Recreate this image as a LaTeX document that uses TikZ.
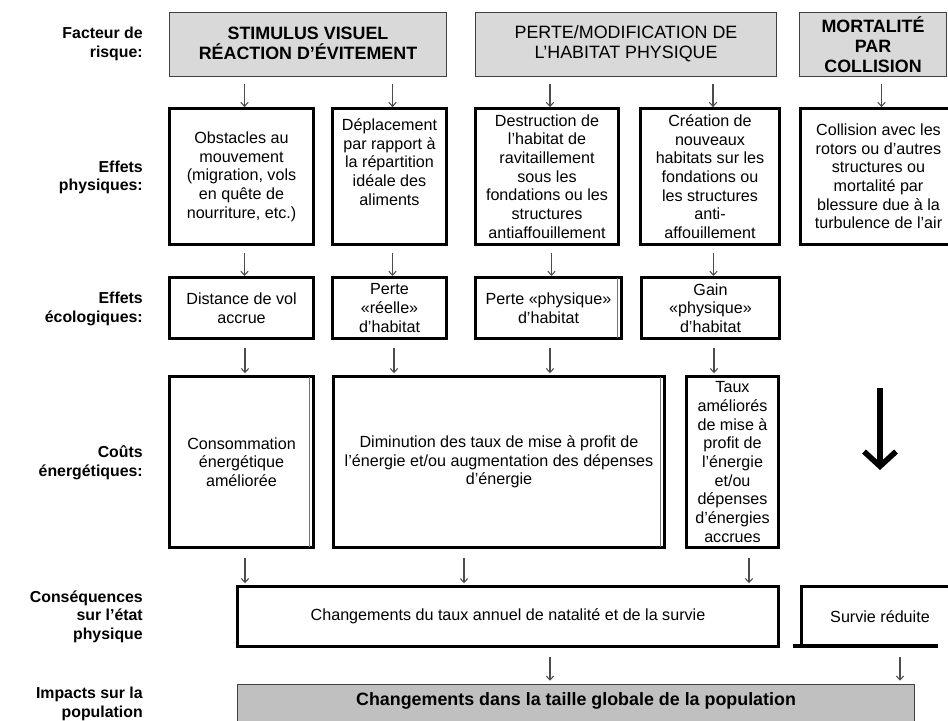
\documentclass[tikz,border=0pt]{standalone}
\usepackage{fontspec}
\setmainfont{Liberation Sans}
\usetikzlibrary{arrows.meta,fit,calc}
\newcommand\bodyf{\fontsize{12.1}{14}\selectfont}
\newcommand\hdrf{\bfseries\fontsize{13.4}{15}\selectfont}
\newcommand\hdrr{\fontsize{13.4}{15}\selectfont}
\newcommand\labf{\bfseries\fontsize{11.9}{13.9}\selectfont}
\definecolor{riskgray}{HTML}{D9D9D9}
\definecolor{popgray}{HTML}{C0C0C0}
\tikzset{
  riskbox/.style={fill=riskgray, inner sep=0pt},
  effbox/.style={inner sep=0pt},
  thinline/.style={draw=black!75, line width=1.1pt},
  thickline/.style={draw=black, line width=2.3pt},
  txt/.style={inner sep=0pt, align=center, font=\bodyf},
  hdr/.style={inner sep=0pt, align=center, font=\hdrf},
  lbl/.style={anchor=east, align=right, font=\labf, inner sep=0pt},
  arr/.style={draw=black!70, line width=0.8pt, -{Straight Barb[length=3pt,width=5.5pt]}},
  bigarrow/.style={draw=black, line width=4.2pt, -{Straight Barb[length=11pt,width=24pt]}},
  innerline/.style={draw=black!55, line width=0.6pt}
}
\begin{document}
\begin{tikzpicture}[x=0.75pt,y=-0.75pt]
\useasboundingbox (0,0) rectangle (948,720);
\clip (0,0) rectangle (948,720);

% left labels
\node[lbl] (l1) at (143,44) {Facteur de\\risque:};
\node[lbl] (l2) at (143,177.5) {Effets\\physiques:};
\node[lbl] (l3) at (143,309) {Effets\\écologiques:};
\node[lbl] (l4) at (143,462.5) {Coûts\\énergétiques:};
\node[lbl] (l5) at (143,616.5) {Conséquences\\sur l’état\\physique};
\node[lbl] (l6) at (143,704) {Impacts sur la\\population};

% row 1: risk factors
\node[riskbox, fit={(170,13)(446,76)}] (A) {};
\node[riskbox, fit={(476,13)(776,76)}] (B) {};
\node[riskbox, fit={(800,13)(946,76)}] (M) {};
\foreach \n in {A,B,M} \draw[thinline] (\n.north west) rectangle (\n.south east);
\node[hdr] (At) at ($(A.center)+(0,-1)$) {STIMULUS VISUEL\\RÉACTION D’ÉVITEMENT};
\node[hdr, font=\hdrr] (Bt) at ($(B.center)+(0,-1)$) {PERTE/MODIFICATION DE\\L’HABITAT PHYSIQUE};
\node[hdr] (Mt) at (M.center) {MORTALITÉ\\PAR\\COLLISION};

% row 2: physical effects
\node[effbox, fit={(170,109)(313,244)}] (P1) {};
\node[effbox, fit={(333,109)(446,244)}] (P2) {};
\node[effbox, fit={(476,109)(618,244)}] (P3) {};
\node[effbox, fit={(641,109)(779,244)}] (P4) {};
\node[effbox, fit={(801,109)(956,244)}] (P5) {};
\node[txt] (P1t) at (P1.center) {Obstacles au\\mouvement\\(migration, vols\\en quête de\\nourriture, etc.)};
\node[txt] (P2t) at (389.5,162) {Déplacement\\par rapport à\\la répartition\\idéale des\\aliments};
\node[txt] (P3t) at (P3.center) {Destruction de\\l’habitat de\\ravitaillement\\sous les\\fondations ou les\\structures\\antiaffouillement};
\node[txt] (P4t) at (P4.center) {Création de\\nouveaux\\habitats sur les\\fondations ou\\les structures\\anti-\\affouillement};
\node[txt] (P5t) at (P5.center) {Collision avec les\\rotors ou d’autres\\structures ou\\mortalité par\\blessure due à la\\turbulence de l’air};

% row 3: ecological effects
\node[effbox, fit={(170,278)(313,338)}] (E1) {};
\node[effbox, fit={(333,278)(446,338)}] (E2) {};
\node[effbox, fit={(476,278)(621,338)}] (E3) {};
\node[effbox, fit={(642,278)(779,338)}] (E4) {};
\node[txt] (E1t) at (E1.center) {Distance de vol\\accrue};
\node[txt] (E2t) at (E2.center) {Perte\\«réelle»\\d’habitat};
\node[txt] (E3t) at (E3.center) {Perte «physique»\\d’habitat};
\node[txt] (E4t) at (E4.center) {Gain\\«physique»\\d’habitat};

% row 4: energy costs
\node[effbox, fit={(170,377)(313,547)}] (C1) {};
\node[effbox, fit={(334,377)(664,547)}] (C2) {};
\node[effbox, fit={(687,377)(778,547)}] (C3) {};
\node[txt] (C1t) at (C1.center) {Consommation\\énergétique\\améliorée};
\node[txt] (C2t) at (C2.center) {Diminution des taux de mise à profit de\\l’énergie et/ou augmentation des dépenses\\d’énergie};
\node[txt] (C3t) at (C3.center) {Taux\\améliorés\\de mise à\\profit de\\l’énergie\\et/ou\\dépenses\\d’énergies\\accrues};

% row 5: consequences
\node[effbox, fit={(238,587)(778,646)}] (N1) {};
\node[effbox, fit={(802,587)(958,646)}] (SV) {};
\node[txt] (N1t) at (N1.center) {Changements du taux annuel de natalité et de la survie};
\node[txt] (SVt) at (SV.center) {Survie réduite};

% thick borders
\foreach \n in {P1,P2,P3,P4,P5,E1,E2,E3,E4,C1,C2,C3,N1}
  \draw[thickline] (\n.north west) rectangle (\n.south east);
\draw[thickline] (SV.north east) -- (SV.north west) -- (SV.south west);
\draw[draw=black, line width=2.8pt] ($(SV.south west)+(-9,0)$) -- ($(SV.south east)+(-20,0)$);
\draw[innerline] ($(E3.north east)+(-3.5,0)$) -- ($(E3.south east)+(-3.5,0)$);
\draw[innerline] ($(C1.north east)+(-3.5,0)$) -- ($(C1.south east)+(-3.5,0)$);
\draw[innerline] ($(C2.north east)+(-3.5,0)$) -- ($(C2.south east)+(-3.5,0)$);

% row 6: population
\node[fill=popgray, inner sep=0pt, fit={(238,685)(914,740)}] (POP) {};
\draw[thinline] (POP.north west) rectangle (POP.south east);
\node[hdr] (POPt) at (576,701) {Changements dans la taille globale de la population};

% arrows row1 -> row2
\foreach \src/\dst in {A/P1, A/P2, B/P3, B/P4, M/P5}
  \draw[arr, shorten <=6pt, shorten >=1.2pt] ($(\src.south -| \dst.north)+(3,0)$) -- ($(\dst.north)+(3,0)$);
% arrows row2 -> row3
\foreach \src/\dst in {P1/E1, P2/E2, P3/E3, P4/E4}
  \draw[arr, shorten <=6.7pt, shorten >=1.3pt] ($(\src.south -| \dst.north)+(3,0)$) -- ($(\dst.north)+(3,0)$);
% arrows row3 -> row4
\coordinate (k1) at (245,338);
\coordinate (k2) at (394,338);
\coordinate (k3) at (550,338);
\coordinate (k4) at (714,338);
\draw[arr, shorten <=7.5pt, shorten >=2.6pt] (k1) -- (k1 |- C1.north);
\draw[arr, shorten <=7.5pt, shorten >=2.6pt] (k2) -- (k2 |- C2.north);
\draw[arr, shorten <=7.5pt, shorten >=2.6pt] (k3) -- (k3 |- C2.north);
\draw[arr, shorten <=7.5pt, shorten >=2.6pt] (k4) -- (k4 |- C3.north);
% big arrow from collision column
\coordinate (bigA) at (880,388);
\coordinate (bigB) at (880,470);
\draw[bigarrow] (bigA) -- (bigB);
% arrows row4 -> row5
\coordinate (m1) at (245,547);
\coordinate (m2) at (464,547);
\coordinate (m3) at (749,547);
\draw[arr, shorten <=8.2pt, shorten >=2.6pt] (m1) -- (m1 |- N1.north);
\draw[arr, shorten <=8.2pt, shorten >=2.6pt] (m2) -- (m2 |- N1.north);
\draw[arr, shorten <=8.2pt, shorten >=2.6pt] (m3) -- (m3 |- N1.north);
% arrows row5 -> row6
\coordinate (n1) at (550,646);
\coordinate (n2) at (900,646);
\draw[arr, shorten <=8.2pt, shorten >=3pt] (n1) -- (n1 |- POP.north);
\draw[arr, shorten <=8.2pt, shorten >=3pt] (n2) -- (n2 |- POP.north);
\end{tikzpicture}
\end{document}
